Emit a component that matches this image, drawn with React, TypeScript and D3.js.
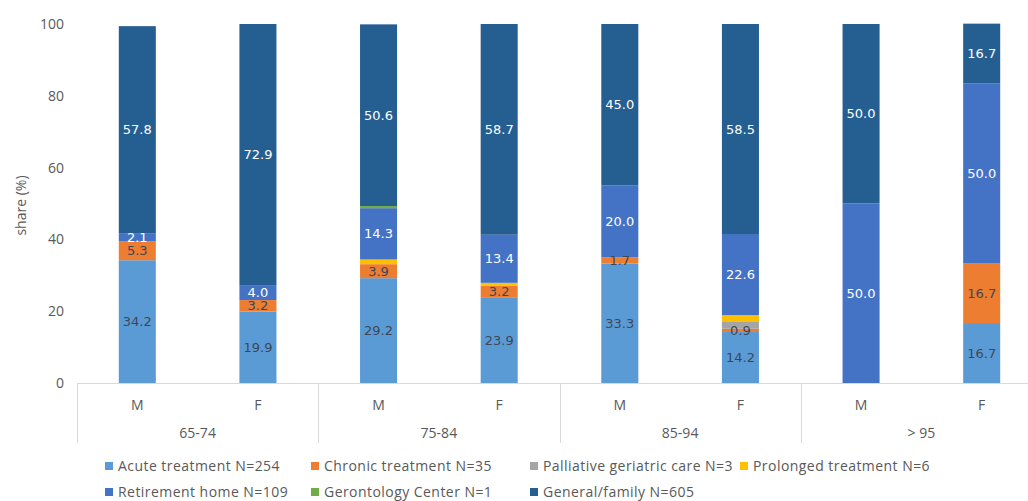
import React from "react";
import * as d3 from "d3";

// Age groups and sexes along the category axis
const ageGroups = ["65-74", "75-84", "85-94", "> 95"];
const sexes = ["M", "F"];

// Care settings, stacked bottom to top
const seriesNames = [
  "Acute treatment N=254",
  "Chronic treatment N=35",
  "Palliative geriatric care N=3",
  "Prolonged treatment N=6",
  "Retirement home N=109",
  "Gerontology Center N=1",
  "General/family N=605",
];
const seriesColors = ["#5B9BD5", "#ED7D31", "#A5A5A5", "#FFC000", "#4472C4", "#70AD47", "#255E91"];
const labelColors = ["#3F4756", "#3F4756", "#3F4756", "#3F4756", "#ffffff", "#ffffff", "#ffffff"];

// Share (%) per bar, order: 65-74 M, 65-74 F, 75-84 M, 75-84 F, 85-94 M, 85-94 F, >95 M, >95 F
const acute = [34.2, 19.9, 29.2, 23.9, 33.3, 14.2, 0, 16.7];
const chronic = [5.3, 3.2, 3.9, 3.2, 1.7, 0.9, 0, 16.7];
const palliative = [0, 0, 0, 0, 0, 1.9, 0, 0];
const prolonged = [0, 0, 1.3, 0.8, 0, 1.9, 0, 0];
const retirement = [2.1, 4.0, 14.3, 13.4, 20.0, 22.6, 50.0, 50.0];
const gerontology = [0, 0, 0.6, 0, 0, 0, 0, 0];
const general = [57.8, 72.9, 50.6, 58.7, 45.0, 58.5, 50.0, 16.7];

// Series whose values are printed inside the segments
const labelledSeries = [true, true, false, false, true, false, true];

const yTicks = [0, 20, 40, 60, 80, 100];

const seriesValues = [acute, chronic, palliative, prolonged, retirement, gerontology, general];

export default function App() {
  const width = 1028;
  const height = 501;
  const left = 77;
  const right = 1042;
  const top = 24;
  const bottom = 383;

  const barKeys = ageGroups.flatMap((g) => sexes.map((s) => `${g}|${s}`));
  const rows = barKeys.map((k, i) => {
    const row: Record<string, number | string> = { key: k };
    seriesNames.forEach((name, j) => (row[name] = seriesValues[j][i]));
    return row;
  });

  const x = d3.scaleBand<string>().domain(barKeys).range([left, right]).paddingInner(0.693).paddingOuter(0.3465);
  const group = d3.scaleBand<string>().domain(ageGroups).range([left, right]);
  const y = d3.scaleLinear().domain([0, 100]).range([bottom, top]);

  const stacked = d3.stack<Record<string, number | string>>().keys(seriesNames)(rows as any);

  const axisColor = "#D9D9D9";
  const textColor = "#595959";
  const font = "'Open Sans', sans-serif";

  const legendRows = [
    [0, 1, 2, 3],
    [4, 5, 6],
  ];
  const legendX = [105, 311, 530, 740];
  const legendY = [466, 492];

  return (
    <svg width={width} height={height} style={{ position: "absolute", left: 0, top: 0, background: "#fff" }}>
      {/* stacked segments */}
      {stacked.map((layer, j) => (
        <g key={seriesNames[j]} fill={seriesColors[j]}>
          {layer.map((d, i) => {
            const h = y(d[0]) - y(d[1]);
            if (h <= 0) return null;
            return <rect key={i} x={x(barKeys[i])} y={y(d[1])} width={x.bandwidth()} height={h} />;
          })}
        </g>
      ))}

      {/* value labels */}
      {stacked.map((layer, j) =>
        labelledSeries[j]
          ? layer.map((d, i) => {
              const v = seriesValues[j][i];
              if (!v) return null;
              return (
                <text
                  key={`${j}-${i}`}
                  x={(x(barKeys[i]) as number) + x.bandwidth() / 2}
                  y={y((d[0] + d[1]) / 2)}
                  dy="0.35em"
                  textAnchor="middle"
                  fill={labelColors[j]}
                  fontFamily="'DejaVu Sans', sans-serif"
                  fontSize={13}
                >
                  {v.toFixed(1)}
                </text>
              );
            })
          : null
      )}

      {/* y axis labels */}
      {yTicks.map((t) => (
        <text key={t} x={64} y={y(t)} dy="0.35em" textAnchor="end" fill={textColor} fontFamily={font} fontSize={14}>
          {t}
        </text>
      ))}
      <text
        transform={`translate(21,${(top + bottom) / 2 + 2}) rotate(-90)`}
        textAnchor="middle"
        dy="0.35em"
        fill={textColor}
        fontFamily={font}
        fontSize={14}
      >
        share (%)
      </text>

      {/* category axis */}
      <line x1={left} x2={right} y1={bottom + 0.5} y2={bottom + 0.5} stroke={axisColor} />
      {ageGroups.map((g) => (
        <line
          key={g}
          x1={Math.round(group(g) as number) + 0.5}
          x2={Math.round(group(g) as number) + 0.5}
          y1={bottom}
          y2={443}
          stroke={axisColor}
        />
      ))}
      {barKeys.map((k) => (
        <text
          key={k}
          x={(x(k) as number) + x.bandwidth() / 2}
          y={405}
          dy="0.35em"
          textAnchor="middle"
          fill={textColor}
          fontFamily={font}
          fontSize={14}
        >
          {k.split("|")[1]}
        </text>
      ))}
      {ageGroups.map((g) => (
        <text
          key={g}
          x={(group(g) as number) + group.bandwidth() / 2}
          y={433}
          dy="0.35em"
          textAnchor="middle"
          fill={textColor}
          fontFamily={font}
          fontSize={14}
        >
          {g}
        </text>
      ))}

      {/* legend */}
      {legendRows.map((row, r) =>
        row.map((j, c) => (
          <g key={j} transform={`translate(${legendX[c]},${legendY[r]})`}>
            <rect x={0} y={-4} width={8} height={8} fill={seriesColors[j]} />
            <text
              x={13}
              y={0}
              dy="0.35em"
              fill={textColor}
              fontFamily={font}
              fontSize={14}
              letterSpacing={0.45}
            >
              {seriesNames[j]}
            </text>
          </g>
        ))
      )}
    </svg>
  );
}
